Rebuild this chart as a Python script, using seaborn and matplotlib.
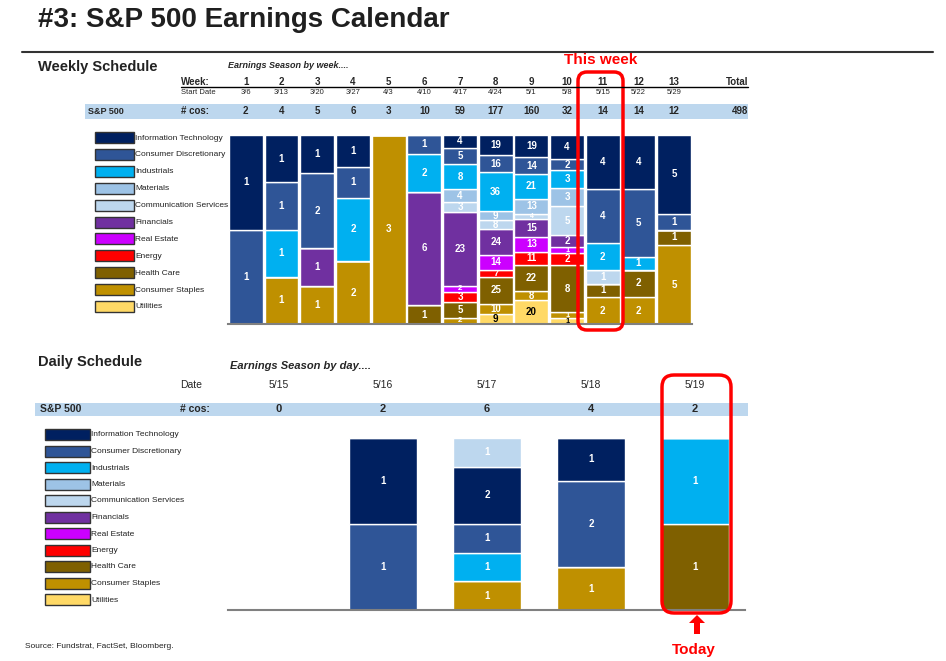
import matplotlib
matplotlib.use('Agg')
import matplotlib.pyplot as plt
import matplotlib.colors as mcolors
from matplotlib.patches import Rectangle, FancyBboxPatch, FancyArrow
from matplotlib.transforms import Affine2D, blended_transform_factory
import seaborn as sns
import pandas as pd
import numpy as np

# ---- data ----
sectors = ['Information Technology', 'Consumer Discretionary', 'Industrials', 'Materials',
           'Communication Services', 'Financials', 'Real Estate', 'Energy', 'Health Care',
           'Consumer Staples', 'Utilities']
sector_colors = ['#002060', '#2F5597', '#00B0F0', '#9DC3E6', '#BDD7EE', '#7030A0',
                 '#CC00FF', '#FF0000', '#7F6000', '#BF9000', '#FFD966']

weeks = list(range(1, 14))
week_dates = ['3/6', '3/13', '3/20', '3/27', '4/3', '4/10', '4/17', '4/24', '5/1', '5/8',
              '5/15', '5/22', '5/29']
week_totals = [2, 4, 5, 6, 3, 10, 59, 177, 160, 32, 14, 14, 12]
grand_total = 498

wk_it      = [1, 1, 1, 1, 0, 0, 4, 19, 19, 4, 4, 4, 5]
wk_discr   = [1, 1, 2, 1, 0, 1, 5, 16, 14, 2, 4, 5, 1]
wk_indus   = [0, 1, 0, 2, 0, 2, 8, 36, 21, 3, 2, 1, 0]
wk_mater   = [0, 0, 0, 0, 0, 0, 4, 9, 13, 3, 0, 0, 0]
wk_comm    = [0, 0, 0, 0, 0, 0, 3, 8, 4, 5, 1, 0, 0]
wk_fin     = [0, 0, 1, 0, 0, 6, 23, 24, 15, 2, 0, 0, 0]
wk_reit    = [0, 0, 0, 0, 0, 0, 2, 14, 13, 1, 0, 0, 0]
wk_energy  = [0, 0, 0, 0, 0, 0, 3, 7, 11, 2, 0, 0, 0]
wk_health  = [0, 0, 0, 0, 0, 1, 5, 25, 22, 8, 1, 2, 1]
wk_staples = [0, 1, 1, 2, 3, 0, 2, 10, 8, 1, 2, 2, 5]
wk_util    = [0, 0, 0, 0, 0, 0, 0, 9, 20, 1, 0, 0, 0]

days = ['5/15', '5/16', '5/17', '5/18', '5/19']
day_totals = [0, 2, 6, 4, 2]
dy_day    = [1, 1, 2, 2, 2, 2, 2, 3, 3, 3, 4, 4]
dy_sector = ['Information Technology', 'Consumer Discretionary',
             'Communication Services', 'Information Technology', 'Consumer Discretionary',
             'Industrials', 'Consumer Staples',
             'Information Technology', 'Consumer Discretionary', 'Consumer Staples',
             'Industrials', 'Health Care']
dy_count  = [1, 1, 1, 2, 1, 1, 1, 1, 2, 1, 1, 1]

# ---- build tables ----
weekly = dict(zip(sectors, [wk_it, wk_discr, wk_indus, wk_mater, wk_comm, wk_fin, wk_reit,
                            wk_energy, wk_health, wk_staples, wk_util]))
rows = []
for s in sectors:
    for w, n in zip(weeks, weekly[s]):
        if n > 0:
            rows.append({'week': w, 'sector': s, 'n': n})
df_week = pd.DataFrame(rows)
df_day = pd.DataFrame({'day': dy_day, 'sector': dy_sector, 'n': dy_count})
palette = dict(zip(sectors, sector_colors))
day_order = ['Communication Services'] + [s for s in sectors if s != 'Communication Services']
day_order = [s for s in day_order if s in set(dy_sector)]

sns.set_style('white')
plt.rcParams['font.family'] = ['Liberation Sans Narrow', 'Liberation Sans', 'DejaVu Sans']

W, H = 946, 661
fig = plt.figure(figsize=(W / 100, H / 100), dpi=100)
px = Affine2D().scale(1 / W, -1 / H).translate(0, 1) + fig.transFigure


def ftext(x, y, s, **kw):
    kw.setdefault('va', 'center')
    fig.text(x, y, s, transform=px, **kw)


def frect(x0, y0, x1, y1, **kw):
    fig.add_artist(Rectangle((x0, y0), x1 - x0, y1 - y0, transform=px, **kw))


def label_segments(ax, totals, ax_h_px):
    for p in ax.patches:
        h = p.get_height()
        if not h or np.isnan(h):
            continue
        xc = p.get_x() + p.get_width() / 2
        n = int(round(h * totals[int(round(xc))]))
        fc = mcolors.to_hex(p.get_facecolor()[:3])
        col = 'black' if fc == '#ffd966' else 'white'
        # shrink labels a little on the thinnest slices
        fs = min(7, max(5, h * ax_h_px * 0.9))
        ax.text(xc, p.get_y() + h / 2, str(n), ha='center', va='center',
                color=col, fontsize=fs, fontweight='bold')


def style_axis(ax):
    ax.set_xlabel('')
    ax.set_ylabel('')
    ax.set_xticks([])
    ax.set_yticks([])
    for sp in ['top', 'left', 'right']:
        ax.spines[sp].set_visible(False)
    ax.spines['bottom'].set_color('#808080')
    ax.spines['bottom'].set_linewidth(1.5)
    ax.set_facecolor('none')


# ---- title ----
ftext(38, 20, '#3: S&P 500 Earnings Calendar', fontsize=20, fontweight='bold', color='#1f1f1f')
fig.add_artist(plt.Line2D([22, 933], [52, 52], transform=px, color='#333333', lw=1.5))
ftext(38, 67, 'Weekly Schedule', fontsize=10.5, fontweight='bold', color='#222222')
ftext(38, 362, 'Daily Schedule', fontsize=10.5, fontweight='bold', color='#222222')

# ---- weekly chart ----
axw = fig.add_axes([228 / W, 1 - 324 / H, 464 / W, 189 / H])
sns.histplot(data=df_week, x='week', weights='n', hue='sector', hue_order=sectors,
             palette=palette, multiple='fill', discrete=True, shrink=0.95, alpha=1,
             edgecolor='white', linewidth=1, legend=False, ax=axw)
axw.set_xlim(0.5, 13.5)
axw.set_ylim(0, 1)
style_axis(axw)
label_segments(axw, dict(zip(weeks, week_totals)), 189)

tw = blended_transform_factory(axw.transData, px)
ftext(228, 66, 'Earnings Season by week....', fontsize=6.5, fontweight='bold', style='italic')
ftext(181, 82, 'Week:', fontsize=7, fontweight='bold')
ftext(181, 92, 'Start Date', fontsize=5.5)
fig.add_artist(plt.Line2D([181, 748], [87, 87], transform=px, color='black', lw=1))
frect(85, 104, 748, 119, facecolor='#BDD7EE', edgecolor='none')
ftext(88, 111, 'S&P 500', fontsize=6.5, fontweight='bold')
ftext(181, 111, '# cos:', fontsize=7, fontweight='bold')
ftext(748, 82, 'Total', fontsize=7, fontweight='bold', ha='right')
ftext(748, 111, str(grand_total), fontsize=7, fontweight='bold', ha='right')
for w, d, n in zip(weeks, week_dates, week_totals):
    fig.text(w, 82, str(w), transform=tw, ha='center', va='center', fontsize=7, fontweight='bold')
    fig.text(w, 92, d, transform=tw, ha='center', va='center', fontsize=5.5)
    fig.text(w, 111, str(n), transform=tw, ha='center', va='center', fontsize=7, fontweight='bold')

# ---- daily chart ----
axd = fig.add_axes([228 / W, 1 - 610 / H, 517 / W, 172 / H])
sns.histplot(data=df_day, x='day', weights='n', hue='sector', hue_order=day_order,
             palette=palette, multiple='fill', discrete=True, shrink=0.65, alpha=1,
             edgecolor='white', linewidth=1, legend=False, ax=axd)
axd.set_xlim(-0.49, 4.48)
axd.set_ylim(0, 1)
style_axis(axd)
label_segments(axd, dict(enumerate(day_totals)), 172)

td = blended_transform_factory(axd.transData, px)
ftext(230, 366, 'Earnings Season by day....', fontsize=8, fontweight='bold', style='italic')
ftext(180, 385, 'Date', fontsize=7.5)
frect(35, 403, 748, 416, facecolor='#BDD7EE', edgecolor='none')
ftext(40, 409, 'S&P 500', fontsize=7.5, fontweight='bold')
ftext(180, 409, '# cos:', fontsize=7.5, fontweight='bold')
for i, (d, n) in enumerate(zip(days, day_totals)):
    fig.text(i, 385, d, transform=td, ha='center', va='center', fontsize=7.5)
    fig.text(i, 409, str(n), transform=td, ha='center', va='center', fontsize=8, fontweight='bold')

# ---- legends ----
for x0, x1, y0, step in [(95, 134, 132, 16.9), (45, 90, 429, 16.5)]:
    for k, (s, c) in enumerate(zip(sectors, sector_colors)):
        y = y0 + k * step
        frect(x0, y, x1, y + 11, facecolor=c, edgecolor='#333333', lw=1)
        ftext(x1 + 1, y + 6, s, fontsize=6, color='#222222')

# ---- highlights ----
red = '#FF0000'
fig.add_artist(FancyBboxPatch((578, 72), 45, 258, boxstyle='round,pad=0,rounding_size=9',
                              transform=px, fill=False, edgecolor=red, lw=2.5))
ftext(601, 60, 'This week', fontsize=11, fontweight='bold', color=red, ha='center')
fig.add_artist(FancyBboxPatch((662, 375), 69, 238, boxstyle='round,pad=0,rounding_size=12',
                              transform=px, fill=False, edgecolor=red, lw=2.5))
fig.add_artist(FancyArrow(697, 634, 0, -19, width=6, head_width=16, head_length=8,
                          length_includes_head=True, transform=px, color=red, lw=0))
ftext(694, 650, 'Today', fontsize=11, fontweight='bold', color=red, ha='center')

ftext(25, 647, 'Source: Fundstrat, FactSet, Bloomberg.', fontsize=6, color='#222222')

fig.savefig('out.png', dpi=100)
